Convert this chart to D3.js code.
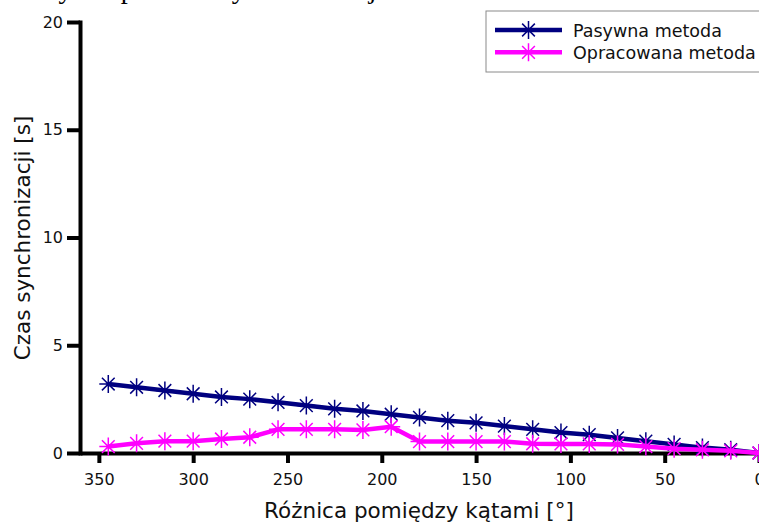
<!DOCTYPE html>
<html>
<head>
<meta charset="utf-8">
<script src="https://cdn.jsdelivr.net/npm/d3@7/dist/d3.min.js"></script>
<style>
  html, body { margin: 0; padding: 0; background: #fff; }
  svg { display: block; }
  .axis text { font-family: "DejaVu Sans", sans-serif; font-size: 16px; fill: #111; }
</style>
</head>
<body>
<svg id="chart" width="759" height="524"></svg>
<script>
// Angle difference between the two signals [deg]
const angles = [345, 330, 315, 300, 285, 270, 255, 240, 225, 210, 195, 180,
                165, 150, 135, 120, 105, 90, 75, 60, 45, 30, 15, 0];

// Synchronisation time [s], passive method
const passiveTimes = [3.2, 3.05, 2.9, 2.75, 2.6, 2.5, 2.35, 2.2, 2.05, 1.95, 1.8, 1.65,
                      1.5, 1.4, 1.25, 1.1, 0.95, 0.85, 0.7, 0.55, 0.4, 0.25, 0.15, 0];

// Synchronisation time [s], developed method
const developedTimes = [0.3, 0.45, 0.55, 0.55, 0.65, 0.73, 1.1, 1.1, 1.1, 1.07, 1.22, 0.53,
                        0.53, 0.53, 0.53, 0.43, 0.42, 0.42, 0.4, 0.3, 0.2, 0.15, 0.1, 0];

const xTicks = [350, 300, 250, 200, 150, 100, 50, 0];
const yTicks = [0, 5, 10, 15, 20];

const seriesNames = ["Pasywna metoda", "Opracowana metoda"];
const seriesColors = ["#000080", "#ff00ff"];

const svg = d3.select("#chart");

// Document caption line above the figure (only its lower part is in view)
svg.append("text")
  .attr("x", 4).attr("y", -2)
  .attr("font-family", "'Liberation Serif', serif")
  .attr("font-size", 28)
  .attr("fill", "#000")
  .text("Czasy dla pomiaru synchronizacji");

const x = d3.scaleLinear().domain([360, 0]).range([80, 759]);
const y = d3.scaleLinear().domain([0, 20]).range([453, 22]);

// Y axis
const gy = svg.append("g").attr("class", "axis").attr("transform", "translate(80,0)")
  .call(d3.axisLeft(y).tickValues(yTicks).tickSize(13).tickSizeOuter(0).tickPadding(4));
gy.select(".domain").attr("stroke", "#000").attr("stroke-width", 4).attr("stroke-linecap", "square");
gy.selectAll(".tick line").attr("stroke", "#000").attr("stroke-width", 4);

// X axis
const gx = svg.append("g").attr("class", "axis").attr("transform", "translate(0,453)")
  .call(d3.axisBottom(x).tickValues(xTicks).tickSize(10).tickSizeOuter(0).tickPadding(11));
gx.select(".domain").attr("stroke", "#000").attr("stroke-width", 4);
gx.selectAll(".tick line").attr("stroke", "#000").attr("stroke-width", 4);

// Axis titles
svg.append("text")
  .attr("x", 419).attr("y", 518)
  .attr("text-anchor", "middle")
  .attr("font-family", "'DejaVu Sans', sans-serif")
  .attr("font-size", 21.5).attr("fill", "#111")
  .text("Różnica pomiędzy kątami [°]");

svg.append("text")
  .attr("transform", "translate(30,238) rotate(-90)")
  .attr("text-anchor", "middle")
  .attr("font-family", "'DejaVu Sans', sans-serif")
  .attr("font-size", 21.5).attr("fill", "#111")
  .text("Czas synchronizacji [s]");

// Asterisk marker path centred on (0,0)
function asterisk(r) {
  const d = r * Math.SQRT1_2;
  return `M0,${-r}V${r}M${-r},0H${r}M${-d},${-d}L${d},${d}M${-d},${d}L${d},${-d}`;
}

const line = d3.line().x((d) => x(d[0])).y((d) => y(d[1]));

const series = [passiveTimes, developedTimes];
series.forEach((vals, i) => {
  const pts = angles.map((a, k) => [a, vals[k]]);
  const g = svg.append("g");
  g.append("path")
    .attr("d", line(pts))
    .attr("fill", "none")
    .attr("stroke", seriesColors[i])
    .attr("stroke-width", 4.5)
    .attr("stroke-linejoin", "round");
  g.selectAll("path.m").data(pts).join("path")
    .attr("class", "m")
    .attr("transform", (d) => `translate(${x(d[0])},${y(d[1])})`)
    .attr("d", asterisk(9))
    .attr("fill", "none")
    .attr("stroke", seriesColors[i])
    .attr("stroke-width", 1.5);
});

// Legend
const lg = svg.append("g");
lg.append("rect")
  .attr("x", 486).attr("y", 11).attr("width", 290).attr("height", 61)
  .attr("fill", "#fff").attr("stroke", "#8a8a8a").attr("stroke-width", 1);
seriesNames.forEach((name, i) => {
  const yy = 30 + i * 22.3;
  lg.append("line")
    .attr("x1", 495).attr("x2", 562).attr("y1", yy).attr("y2", yy)
    .attr("stroke", seriesColors[i]).attr("stroke-width", 4.5);
  lg.append("path")
    .attr("transform", `translate(528.5,${yy})`)
    .attr("d", asterisk(9))
    .attr("fill", "none").attr("stroke", seriesColors[i]).attr("stroke-width", 1.5);
  lg.append("text")
    .attr("x", 573).attr("y", yy + 6.5)
    .attr("font-family", "'DejaVu Sans', sans-serif")
    .attr("font-size", 17.5).attr("fill", "#111")
    .text(name);
});
</script>
</body>
</html>
